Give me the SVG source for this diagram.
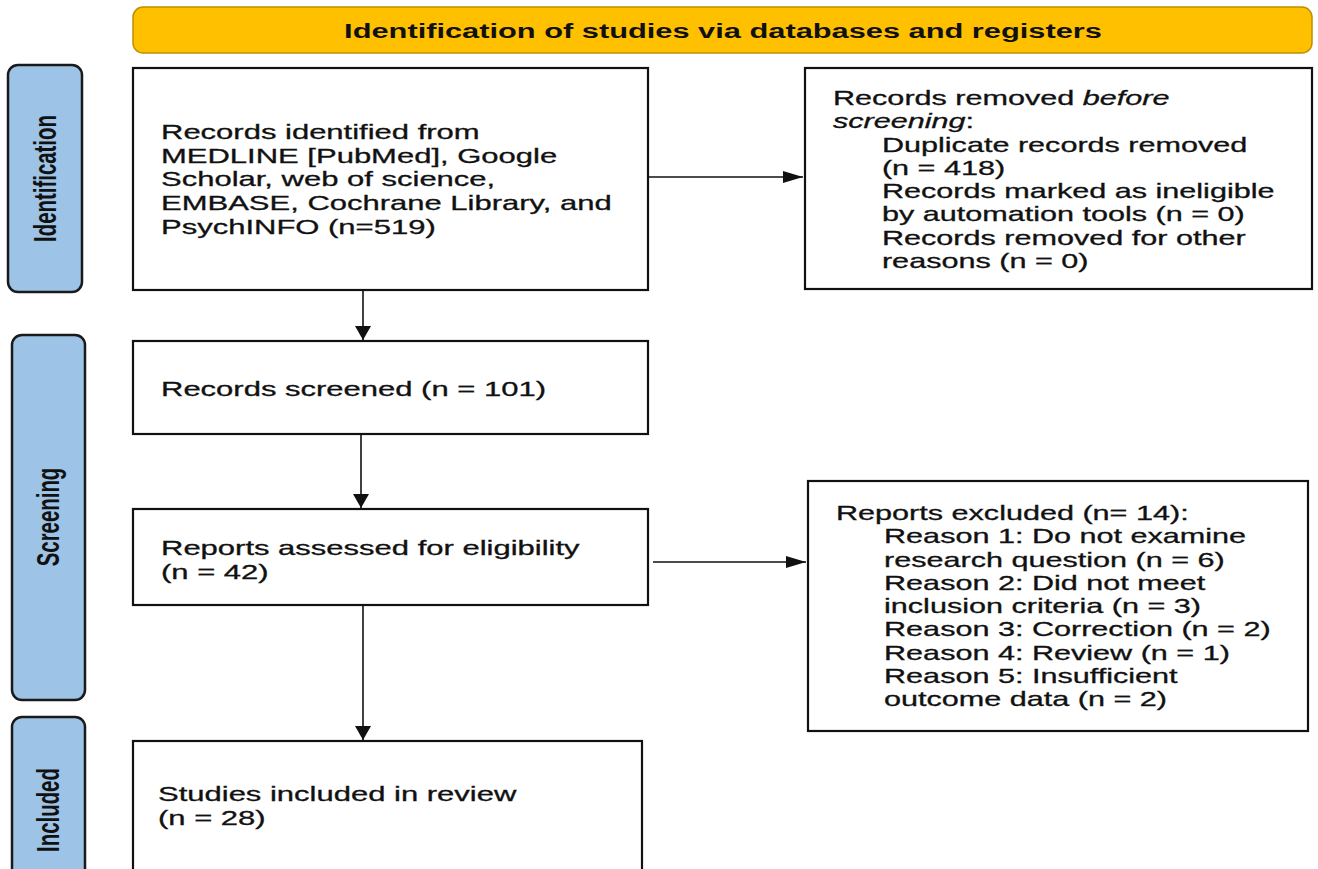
<svg xmlns="http://www.w3.org/2000/svg" width="1318" height="869" viewBox="0 0 1318 869">
<style>
.box{fill:#fff;stroke:#111;stroke-width:2.2}
.side{fill:#9DC3E6;stroke:#1a1a1a;stroke-width:2.5}
.ban{fill:#FFC000;stroke:#BF9000;stroke-width:1.5}
.t{font-family:"Liberation Sans",Arial,sans-serif;font-size:20px;fill:#111;stroke:#111;stroke-width:0.3}
.b{font-family:"Liberation Sans",Arial,sans-serif;font-size:20px;font-weight:bold;fill:#111}
.lab{font-family:"Liberation Sans",Arial,sans-serif;font-size:20.4px;font-weight:bold;fill:#111;text-anchor:middle}
.c{stroke:#111;stroke-width:1.6;fill:none}
</style>
<defs>
<marker id="ah" markerUnits="userSpaceOnUse" markerWidth="20" markerHeight="14" refX="20" refY="7" orient="auto">
<path d="M0,1 L20,7 L0,13 Z" fill="#111"/>
</marker>
<marker id="av" markerUnits="userSpaceOnUse" markerWidth="14" markerHeight="18" refX="14" refY="9" orient="auto">
<path d="M0,1 L14,9 L0,17 Z" fill="#111"/>
</marker>
</defs>
<rect width="1318" height="869" fill="#fff"/>

<g id="banner">
<rect class="ban" x="133" y="7" width="1179" height="46" rx="10"/>
<text class="b" text-anchor="middle" transform="matrix(1.54 0 0 1 723 38)">Identification of studies via databases and registers</text>
</g>

<g id="phase-identification">
<rect class="side" x="8" y="65" width="74" height="227" rx="10"/>
<text class="lab" transform="translate(56,178.5) scale(1.5,1) rotate(-90)">Identification</text>
</g>
<g id="phase-screening">
<rect class="side" x="12" y="335" width="73" height="365" rx="10"/>
<text class="lab" transform="translate(59,517) scale(1.5,1) rotate(-90)">Screening</text>
</g>
<g id="phase-included">
<rect class="side" x="12" y="717" width="73" height="186" rx="10"/>
<text class="lab" transform="translate(59,810) scale(1.5,1) rotate(-90)">Included</text>
</g>

<g id="records-identified">
<rect class="box" x="133" y="68" width="515" height="222"/>
<text class="t" transform="matrix(1.55 0 0 1 161 139)"><tspan x="0" y="0">Records identified from</tspan><tspan x="0" y="23.7">MEDLINE [PubMed], Google</tspan><tspan x="0" y="47.4">Scholar, web of science,</tspan><tspan x="0" y="71.1">EMBASE, Cochrane Library, and</tspan><tspan x="0" y="94.8">PsychINFO (n=519)</tspan></text>
</g>

<g id="records-removed">
<rect class="box" x="805" y="68" width="507" height="221"/>
<text class="t" transform="matrix(1.53 0 0 1 833 105)"><tspan x="0" y="0">Records removed <tspan font-style="italic">before</tspan></tspan><tspan x="0" y="23.3"><tspan font-style="italic">screening</tspan>:</tspan><tspan x="32" y="46.6">Duplicate records removed</tspan><tspan x="32" y="69.9">(n = 418)</tspan><tspan x="32" y="93.2">Records marked as ineligible</tspan><tspan x="32" y="116.5">by automation tools (n = 0)</tspan><tspan x="32" y="139.8">Records removed for other</tspan><tspan x="32" y="163.1">reasons (n = 0)</tspan></text>
</g>

<g id="records-screened">
<rect class="box" x="133" y="341" width="515" height="93"/>
<text class="t" transform="matrix(1.55 0 0 1 161 396)">Records screened (n = 101)</text>
</g>

<g id="reports-assessed">
<rect class="box" x="133" y="509" width="515" height="96"/>
<text class="t" transform="matrix(1.55 0 0 1 161 555)"><tspan x="0" y="0">Reports assessed for eligibility</tspan><tspan x="0" y="24">(n = 42)</tspan></text>
</g>

<g id="reports-excluded">
<rect class="box" x="808" y="481" width="500" height="250"/>
<text class="t" transform="matrix(1.53 0 0 1 836 520)"><tspan x="0" y="0">Reports excluded (n= 14):</tspan><tspan x="31.4" y="23.3">Reason 1: Do not examine</tspan><tspan x="31.4" y="46.6">research question (n = 6)</tspan><tspan x="31.4" y="69.9">Reason 2: Did not meet</tspan><tspan x="31.4" y="93.2">inclusion criteria (n = 3)</tspan><tspan x="31.4" y="116.5">Reason 3: Correction (n = 2)</tspan><tspan x="31.4" y="139.8">Reason 4: Review (n = 1)</tspan><tspan x="31.4" y="163.1">Reason 5: Insufficient</tspan><tspan x="31.4" y="186.4">outcome data (n = 2)</tspan></text>
</g>

<g id="studies-included">
<rect class="box" x="133" y="741" width="509" height="140"/>
<text class="t" transform="matrix(1.55 0 0 1 158 801)"><tspan x="0" y="0">Studies included in review</tspan><tspan x="0" y="24">(n = 28)</tspan></text>
</g>

<g id="connectors">
<line class="c" x1="648" y1="177" x2="803" y2="177" marker-end="url(#ah)"/>
<line class="c" x1="363" y1="290" x2="363" y2="340" marker-end="url(#av)"/>
<line class="c" x1="361" y1="434" x2="361" y2="508" marker-end="url(#av)"/>
<line class="c" x1="653" y1="562" x2="806" y2="562" marker-end="url(#ah)"/>
<line class="c" x1="363" y1="605" x2="363" y2="740" marker-end="url(#av)"/>
</g>
</svg>
